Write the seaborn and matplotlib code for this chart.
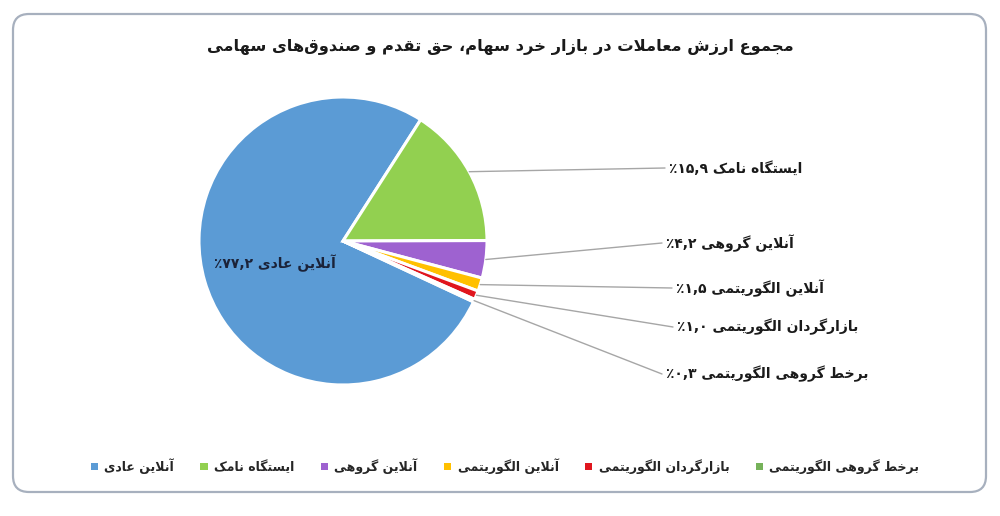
import numpy as np
import matplotlib
matplotlib.use('Agg')
import matplotlib.pyplot as plt
import seaborn as sns
from matplotlib.patches import FancyBboxPatch

# chart data
title = 'مجموع ارزش معاملات در بازار خرد سهام، حق تقدم و صندوق‌های سهامی'
categories = ['آنلاین عادی', 'ایستگاه نامک', 'آنلاین گروهی', 'آنلاین الگوریتمی',
              'بازارگردان الگوریتمی', 'برخط گروهی الگوریتمی']
shares = [77.2, 15.9, 4.2, 1.5, 1.0, 0.3]
colors = ['#5B9BD5', '#92D050', '#9E62D0', '#FFC000', '#E0161E', '#76B25A']

# presentation forms: isolated, final, initial, medial
FORMS = {
    '\u0627': (0xFE8D, 0xFE8E, None, None),
    '\u0622': (0xFE81, 0xFE82, None, None),
    '\u0628': (0xFE8F, 0xFE90, 0xFE91, 0xFE92),
    '\u062A': (0xFE95, 0xFE96, 0xFE97, 0xFE98),
    '\u062C': (0xFE9D, 0xFE9E, 0xFE9F, 0xFEA0),
    '\u062D': (0xFEA1, 0xFEA2, 0xFEA3, 0xFEA4),
    '\u062E': (0xFEA5, 0xFEA6, 0xFEA7, 0xFEA8),
    '\u062F': (0xFEA9, 0xFEAA, None, None),
    '\u0631': (0xFEAD, 0xFEAE, None, None),
    '\u0632': (0xFEAF, 0xFEB0, None, None),
    '\u0633': (0xFEB1, 0xFEB2, 0xFEB3, 0xFEB4),
    '\u0634': (0xFEB5, 0xFEB6, 0xFEB7, 0xFEB8),
    '\u0635': (0xFEB9, 0xFEBA, 0xFEBB, 0xFEBC),
    '\u0637': (0xFEC1, 0xFEC2, 0xFEC3, 0xFEC4),
    '\u0639': (0xFEC9, 0xFECA, 0xFECB, 0xFECC),
    '\u0642': (0xFED5, 0xFED6, 0xFED7, 0xFED8),
    '\u0644': (0xFEDD, 0xFEDE, 0xFEDF, 0xFEE0),
    '\u0645': (0xFEE1, 0xFEE2, 0xFEE3, 0xFEE4),
    '\u0646': (0xFEE5, 0xFEE6, 0xFEE7, 0xFEE8),
    '\u0647': (0xFEE9, 0xFEEA, 0xFEEB, 0xFEEC),
    '\u0648': (0xFEED, 0xFEEE, None, None),
    '\u06A9': (0xFB8E, 0xFB8F, 0xFB90, 0xFB91),
    '\u06AF': (0xFB92, 0xFB93, 0xFB94, 0xFB95),
    '\u06CC': (0xFBFC, 0xFBFD, 0xFBFE, 0xFBFF),
    'LA': (0xFEFB, 0xFEFC, None, None),
    'LAA': (0xFEF5, 0xFEF6, None, None),
}


def rtl(text):
    # join letters and flip to visual order (no bidi engine in matplotlib)
    units = []
    i = 0
    while i < len(text):
        ch = text[i]
        if ch == '\u0644' and i + 1 < len(text) and text[i + 1] in '\u0627\u0622':
            units.append('LA' if text[i + 1] == '\u0627' else 'LAA')
            i += 2
            continue
        units.append(ch)
        i += 1
    out = []
    for k, u in enumerate(units):
        if u not in FORMS:
            if u != '\u200c':
                out.append(u)
            continue
        prev = units[k - 1] if k > 0 else None
        nxt = units[k + 1] if k + 1 < len(units) else None
        f = FORMS[u]
        jp = prev in FORMS and FORMS[prev][2] is not None
        jn = f[2] is not None and nxt in FORMS
        if jp and jn:
            g = f[3]
        elif jp:
            g = f[1]
        elif jn:
            g = f[2]
        else:
            g = f[0]
        out.append(chr(g))
    return ''.join(reversed(out))


def fa_pct(v):
    s = f'{v:.1f}'.replace('.', ',')
    return '٪' + s.translate(str.maketrans('0123456789', '۰۱۲۳۴۵۶۷۸۹'))


sns.set_theme(style='white')
plt.rcParams['font.family'] = ['DejaVu Sans']

fig = plt.figure(figsize=(10, 5.16), dpi=100)
fig.patch.set_facecolor('white')

# rounded frame around the chart
frame = FancyBboxPatch((0.13, 0.24), 9.73, 4.78,
                       boxstyle='round,pad=0,rounding_size=0.16',
                       transform=fig.dpi_scale_trans, facecolor='none',
                       edgecolor='#A7B0BE', linewidth=1.6, zorder=-1)
fig.patches.append(frame)

# pie centre at (343, 241) px, radius 144 px
ax = fig.add_axes([0.199, 131 / 516, 0.288, 288 / 516])
wedges, _ = ax.pie(shares, colors=colors, startangle=335, counterclock=False,
                   wedgeprops=dict(edgecolor='white', linewidth=2.2))
ax.set_xlim(-1, 1)
ax.set_ylim(-1, 1)
ax.axis('off')

fig.text(0.5, 1 - 47 / 516, rtl(title), ha='center', va='center',
         fontsize=11.7, fontweight='bold', color='#1a1a1a')

# leader lines + labels for the small slices
label_y = [168, 243, 288, 327, 374]
line_end = [665, 662, 672, 673, 662]
total = sum(shares)
cum = 0
for i, v in enumerate(shares):
    mid = np.deg2rad(335 - 360 * (cum + v / 2) / total)
    cum += v
    if i == 0:
        ax.text((275 - 343) / 144, (241 - 263) / 144,
                fa_pct(v) + ' ' + rtl(categories[i]), ha='center', va='center',
                fontsize=10, fontweight='bold', color='#1b2238')
        continue
    x0, y0 = np.cos(mid), np.sin(mid)
    x1 = (line_end[i - 1] - 343) / 144
    y1 = (241 - label_y[i - 1]) / 144
    ax.plot([x0, x1], [y0, y1], color='#A6A6A6', lw=1.0, clip_on=False)
    ax.text(x1 + 4 / 144, y1, fa_pct(v) + ' ' + rtl(categories[i]),
            ha='left', va='center', fontsize=10, fontweight='bold',
            color='#1a1a1a', clip_on=False)

leg = fig.legend(wedges, [rtl(c) for c in categories], loc='center',
                 bbox_to_anchor=(0.505, 1 - 466 / 516), ncol=6, frameon=False,
                 handlelength=0.6, handleheight=0.6, handletextpad=0.5,
                 columnspacing=2.1, prop=dict(weight='bold', size=9.0))
for h in leg.legend_handles:
    h.set_edgecolor('none')

fig.savefig('out.png', dpi=100)
